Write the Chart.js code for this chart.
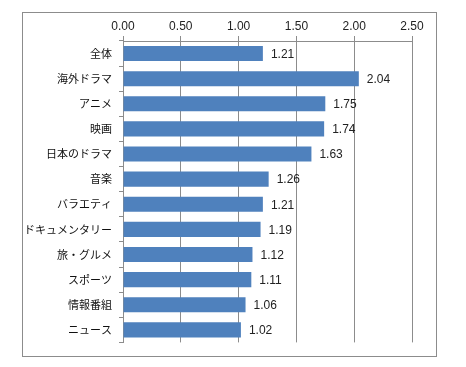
<!DOCTYPE html>
<html>
<head>
<meta charset="utf-8">
<script src="https://cdn.jsdelivr.net/npm/chart.js@4/dist/chart.umd.min.js"></script>
<style>
  body { margin: 0; background: #fff; }
  #frame {
    position: absolute; left: 22px; top: 12px;
    width: 413px; height: 343px;
    border: 1px solid #8c8c8c;
  }
</style>
</head>
<body>
<div id="frame"><canvas id="chart" width="413" height="343"></canvas></div>
<script>
const categories = ['全体', '海外ドラマ', 'アニメ', '映画', '日本のドラマ', '音楽', 'バラエティ', 'ドキュメンタリー', '旅・グルメ', 'スポーツ', '情報番組', 'ニュース'];
const values = [1.21, 2.04, 1.75, 1.74, 1.63, 1.26, 1.21, 1.19, 1.12, 1.11, 1.06, 1.02];
const xTicks = [0, 0.5, 1, 1.5, 2, 2.5];

const numFont = { family: '"Liberation Sans", Arial, sans-serif', size: 12 };
const jpFont = { family: '"Noto Sans CJK JP", sans-serif', size: 11 };

// etiquetas de valor al final de cada barra
const valueLabels = {
  id: 'valueLabels',
  afterDatasetsDraw(chart) {
    const ctx = chart.ctx;
    const meta = chart.getDatasetMeta(0);
    ctx.save();
    ctx.font = numFont.size + 'px ' + numFont.family;
    ctx.fillStyle = '#222';
    ctx.textAlign = 'left';
    ctx.textBaseline = 'middle';
    meta.data.forEach((bar, i) => {
      ctx.fillText(values[i].toFixed(2), bar.x + 8, bar.y + 1);
    });
    ctx.restore();
  }
};

new Chart(document.getElementById('chart').getContext('2d'), {
  type: 'bar',
  data: {
    labels: categories,
    datasets: [{
      data: values,
      backgroundColor: '#4f81bd',
      borderWidth: 0,
      barPercentage: 0.6,
      categoryPercentage: 1.0
    }]
  },
  options: {
    indexAxis: 'y',
    responsive: false,
    animation: false,
    layout: { padding: { left: 0, top: 0, right: 24, bottom: 12 } },
    plugins: { legend: { display: false }, tooltip: { enabled: false } },
    scales: {
      x: {
        position: 'top',
        min: 0,
        max: 2.5,
        afterBuildTicks: (scale) => { scale.ticks = xTicks.map(v => ({ value: v })); },
        afterFit: (scale) => { scale.height = 28; },
        ticks: {
          callback: (v) => Number(v).toFixed(2),
          font: numFont,
          color: '#222',
          padding: 2
        },
        grid: { color: '#8c8c8c', tickLength: 5, drawTicks: true },
        border: { color: '#8c8c8c' }
      },
      y: {
        afterFit: (scale) => { scale.width = 100; },
        ticks: { font: jpFont, color: '#111', padding: 7 },
        grid: { offset: true, drawOnChartArea: false, tickLength: 4, color: '#8c8c8c' },
        border: { color: '#8c8c8c' }
      }
    }
  },
  plugins: [valueLabels]
});
</script>
</body>
</html>
